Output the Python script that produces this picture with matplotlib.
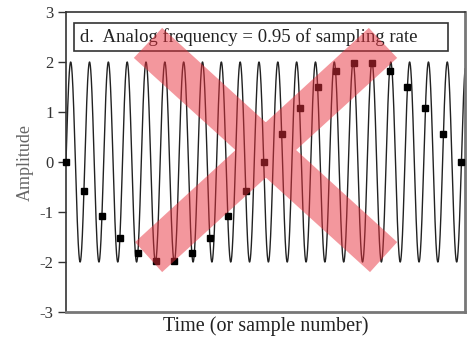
import matplotlib
matplotlib.use('Agg')
import matplotlib.pyplot as plt
from matplotlib.path import Path
from matplotlib.patches import PathPatch, Rectangle
import numpy as np

sample_n = list(range(23))
sample_vals = [0, -0.57, -1.08, -1.51, -1.82, -1.98, -1.98, -1.82, -1.51, -1.08, -0.57,
               0, 0.57, 1.08, 1.51, 1.82, 1.98, 1.98, 1.82, 1.51, 1.08, 0.57, 0]

# the analog signal: a sine of this frequency (cycles per sample) and amplitude
analog_freq = 21 / 22
analog_amp = 2.0

y_ticks = [-3, -2, -1, 0, 1, 2, 3]
title_text = 'd.  Analog frequency = 0.95 of sampling rate'

plt.rcParams['font.family'] = ['Liberation Serif', 'DejaVu Serif']
plt.rcParams['axes.unicode_minus'] = False

fig = plt.figure(figsize=(4.67, 3.42), dpi=100)
ax = fig.add_axes([0.1413, 0.0877, 0.8544, 0.8772])

t = np.linspace(0, 22.2, 3000)
ax.plot(t, analog_amp * np.sin(2 * np.pi * analog_freq * t), color='#222222', lw=1.0, zorder=2)
ax.plot(sample_n, sample_vals, 's', color='black', ms=5, zorder=3, clip_on=False)

ax.set_xlim(0, 22.2)
ax.set_ylim(-3, 3)
ax.set_xticks([])
ax.set_yticks(y_ticks)
ax.tick_params(axis='y', direction='out', length=6, width=1, colors='#333333',
               labelsize=12, pad=3)
for s in ['left', 'top']:
    ax.spines[s].set_linewidth(1.2)
    ax.spines[s].set_color('#333333')
for s in ['right', 'bottom']:
    ax.spines[s].set_linewidth(2)
    ax.spines[s].set_color('#777777')

ax.set_ylabel('Amplitude', fontsize=13, color='#666666', labelpad=4)
ax.set_xlabel('Time (or sample number)', fontsize=14.5, color='#222222', labelpad=3)

# title box
ax.add_patch(Rectangle((0.020, 0.870), 0.937, 0.093, transform=ax.transAxes,
                       facecolor='white', edgecolor='#333333', lw=1.2, zorder=4))
ax.text(0.035, 0.916, title_text, transform=ax.transAxes, fontsize=13.5,
        va='center', ha='left', color='#222222', zorder=5)

# red X overlay (both bands in one path, same winding, so the middle is filled once)
band1 = [(0.170, 0.847), (0.241, 0.947), (0.830, 0.233), (0.762, 0.133)]
band2 = [(0.759, 0.947), (0.830, 0.847), (0.241, 0.133), (0.173, 0.233)]
verts, codes = [], []
for band in (band1, band2):
    verts += band + [band[0]]
    codes += [Path.MOVETO, Path.LINETO, Path.LINETO, Path.LINETO, Path.CLOSEPOLY]
ax.add_patch(PathPatch(Path(verts, codes), transform=ax.transAxes, facecolor='#e8303c',
                       edgecolor='none', alpha=0.5, zorder=6))

fig.savefig('out.png', dpi=100)
